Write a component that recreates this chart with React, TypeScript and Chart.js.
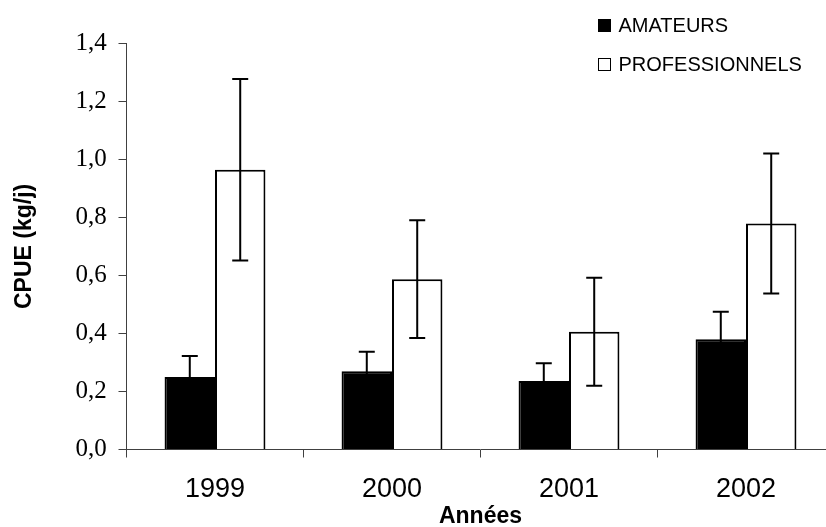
import React, { useEffect, useRef } from "react";
import { Chart, registerables } from "chart.js";

Chart.register(...registerables);

const categories = ["1999", "2000", "2001", "2002"];
const amateurs = [0.25, 0.27, 0.236, 0.38];
const amateursErr = [0.072, 0.067, 0.061, 0.095];
const professionnels = [0.964, 0.587, 0.406, 0.779];
const professionnelsErr = [0.313, 0.203, 0.186, 0.241];
const seriesNames = ["AMATEURS", "PROFESSIONNELS"];
const yTicks = { min: 0, max: 1.4, step: 0.2 };

const AXIS_COLOR = "#404040";

const errorBarPlugin = {
  id: "errorBars",
  afterDatasetsDraw(chart: any) {
    const ctx = chart.ctx;
    const yScale = chart.scales.y;
    chart.data.datasets.forEach((ds: any, i: number) => {
      const meta = chart.getDatasetMeta(i);
      const errs: number[] = ds.errors || [];
      meta.data.forEach((bar: any, j: number) => {
        const v = ds.data[j];
        const e = errs[j];
        if (e == null) return;
        const top = yScale.getPixelForValue(v + e);
        const bot = yScale.getPixelForValue(v - e);
        const half = 8;
        ctx.save();
        ctx.strokeStyle = "#000";
        ctx.lineWidth = 2;
        ctx.beginPath();
        ctx.moveTo(bar.x, top);
        ctx.lineTo(bar.x, bot);
        ctx.moveTo(bar.x - half, top);
        ctx.lineTo(bar.x + half, top);
        ctx.moveTo(bar.x - half, bot);
        ctx.lineTo(bar.x + half, bot);
        ctx.stroke();
        ctx.restore();
      });
    });
  },
};

export default function App() {
  const canvasRef = useRef<HTMLCanvasElement | null>(null);

  useEffect(() => {
    const canvas = canvasRef.current;
    if (!canvas) return;
    const chart = new Chart(canvas, {
      type: "bar",
      data: {
        labels: categories,
        datasets: [
          {
            label: seriesNames[0],
            data: amateurs,
            errors: amateursErr,
            backgroundColor: "#000000",
            borderColor: "#000000",
            borderWidth: 2,
            categoryPercentage: 0.57,
            barPercentage: 1,
          } as any,
          {
            label: seriesNames[1],
            data: professionnels,
            errors: professionnelsErr,
            backgroundColor: "#ffffff",
            borderColor: "#000000",
            borderWidth: 2,
            categoryPercentage: 0.57,
            barPercentage: 1,
          } as any,
        ],
      },
      options: {
        animation: false,
        responsive: false,
        layout: { padding: { top: 43.3, right: 15.5, bottom: 0, left: 0 } },
        plugins: {
          legend: { display: false },
          tooltip: { enabled: false },
        },
        scales: {
          x: {
            type: "category",
            offset: true,
            grid: {
              offset: true,
              drawOnChartArea: false,
              drawTicks: true,
              tickLength: 8,
              color: AXIS_COLOR,
              lineWidth: 1,
            },
            border: { display: true, color: AXIS_COLOR, width: 1 },
            ticks: {
              color: "#000",
              padding: 16.3,
              font: { family: "'Liberation Sans', Arial, sans-serif", size: 27 },
            },
            title: {
              display: true,
              text: "Années",
              color: "#000",
              padding: { top: 0, bottom: 9.4 },
              font: { family: "'Liberation Sans', Arial, sans-serif", size: 23, weight: "bold" },
            },
            afterFit(scale: any) {
              scale.height = 90.5;
            },
          },
          y: {
            min: yTicks.min,
            max: yTicks.max,
            grid: {
              drawOnChartArea: false,
              drawTicks: true,
              tickLength: 8,
              color: AXIS_COLOR,
              lineWidth: 1,
            },
            border: { display: true, color: AXIS_COLOR, width: 1 },
            ticks: {
              stepSize: yTicks.step,
              color: "#000",
              padding: 11.8,
              font: { family: "'Liberation Serif', 'Times New Roman', serif", size: 25 },
              callback: (v: any) => Number(v).toFixed(1).replace(".", ","),
            },
            title: {
              display: true,
              text: "CPUE (kg/j)",
              color: "#000",
              padding: { top: 11.2, bottom: 0 },
              font: { family: "'Liberation Sans', Arial, sans-serif", size: 23, weight: "bold" },
            },
            afterFit(scale: any) {
              scale.width = 126.5;
            },
          },
        },
      } as any,
      plugins: [errorBarPlugin],
    });
    return () => chart.destroy();
  }, []);

  const legendText: React.CSSProperties = {
    position: "absolute",
    left: 618.5,
    height: 24,
    lineHeight: "24px",
    fontFamily: "'Liberation Sans', Arial, sans-serif",
    fontSize: 20,
    color: "#000",
    whiteSpace: "nowrap",
  };

  return (
    <div
      style={{
        position: "fixed",
        left: 0,
        top: 0,
        width: 826,
        height: 527,
        overflow: "hidden",
        background: "#fff",
      }}
    >
      <canvas ref={canvasRef} width={850} height={540} style={{ width: 850, height: 540, display: "block" }} />
      <div
        style={{
          position: "absolute",
          left: 597.5,
          top: 19.3,
          width: 13,
          height: 13,
          background: "#000",
        }}
      />
      <div style={{ ...legendText, top: 13.2 }}>{seriesNames[0]}</div>
      <div
        style={{
          position: "absolute",
          left: 597.5,
          top: 57.5,
          width: 13,
          height: 13,
          background: "#fff",
          border: "1.5px solid #000",
          boxSizing: "border-box",
        }}
      />
      <div style={{ ...legendText, top: 51.9 }}>{seriesNames[1]}</div>
    </div>
  );
}
